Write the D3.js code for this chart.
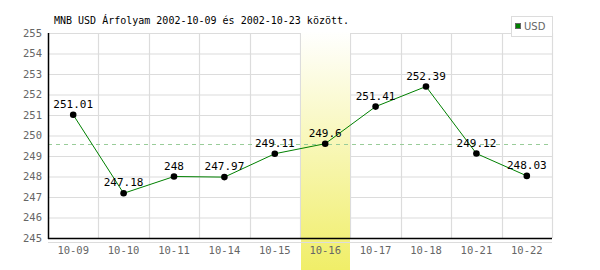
<!DOCTYPE html>
<html><head><meta charset="utf-8">
<script src="https://cdn.jsdelivr.net/npm/d3@7"></script>
<style>html,body{margin:0;padding:0;background:#fff;}svg{display:block;}</style>
</head><body>
<svg id="c" width="600" height="270"></svg>
<script>
const categories = ["10-09","10-10","10-11","10-14","10-15","10-16","10-17","10-18","10-21","10-22"];
const values = [251.01,247.18,248,247.97,249.11,249.6,251.41,252.39,249.12,248.03];
const valueLabels = ["251.01","247.18","248","247.97","249.11","249.6","251.41","252.39","249.12","248.03"];
const yTicks = [245,246,247,248,249,250,251,252,253,254,255];
const highlightCategory = "10-16";
const referenceValue = 249.6;
const seriesName = "USD";
const title = "MNB USD Árfolyam 2002-10-09 és 2002-10-23 között.";

const font = "'DejaVu Sans Mono', monospace";
const svg = d3.select("#c");
const L = 48, R = 552, T = 33, B = 238;
const x = d3.scaleBand().domain(categories).range([L, R]);
const y = d3.scaleLinear().domain([245, 255]).range([B, T]);

// grid
const g = svg.append("g");
g.selectAll("line.h").data(yTicks.slice(1)).join("line")
  .attr("x1", L).attr("x2", R).attr("y1", d => y(d)+0.5).attr("y2", d => y(d)+0.5)
  .attr("stroke", "#dcdcdc").attr("stroke-width", 1.2);
g.selectAll("line.v").data(categories).join("line")
  .attr("x1", d => Math.round(x(d) + x.bandwidth())+0.5).attr("x2", d => Math.round(x(d) + x.bandwidth())+0.5)
  .attr("y1", T).attr("y2", B)
  .attr("stroke", "#dcdcdc").attr("stroke-width", 1.2);

// highlight band
const defs = svg.append("defs");
const grad = defs.append("linearGradient").attr("id", "hl").attr("x1", 0).attr("x2", 0).attr("y1", 0).attr("y2", 1);
grad.append("stop").attr("offset", "0%").attr("stop-color", "#ffffff");
grad.append("stop").attr("offset", "100%").attr("stop-color", "#f0ee68");
svg.append("rect")
  .attr("x", Math.round(x(highlightCategory))+1).attr("y", T-2)
  .attr("width", Math.round(x.bandwidth())-1).attr("height", 270-(T-2))
  .attr("fill", "url(#hl)");

// reference dashed line
svg.append("line").attr("x1", L).attr("x2", R)
  .attr("y1", Math.round(y(referenceValue))+0.5).attr("y2", Math.round(y(referenceValue))+0.5)
  .attr("stroke", "#99cc99").attr("stroke-width", 1).attr("stroke-dasharray", "4,4");

// grey line below x axis
svg.append("line").attr("x1", L).attr("x2", R).attr("y1", B+4.5).attr("y2", B+4.5)
  .attr("stroke", "#dcdcdc").attr("stroke-width", 1);

// axes
const yAxis = d3.axisLeft(y).tickValues(yTicks).tickSize(0).tickPadding(6).tickFormat(d3.format("d"));
const ya = svg.append("g").attr("transform", `translate(${L},0)`).call(yAxis);
ya.select(".domain").remove();
ya.selectAll("text").attr("fill", "#666").style("font-family", font).style("font-size", "10.5px");

const xAxis = d3.axisBottom(x).tickSize(0).tickPadding(9);
const xa = svg.append("g").attr("transform", `translate(0,${B})`).call(xAxis);
xa.select(".domain").remove();
xa.selectAll("text").attr("fill", "#666").style("font-family", font).style("font-size", "10.5px");

svg.append("line").attr("x1", L+0.5).attr("x2", L+0.5).attr("y1", T).attr("y2", B+1).attr("stroke", "#000").attr("stroke-width", 1.5);
svg.append("line").attr("x1", L).attr("x2", R).attr("y1", B+0.5).attr("y2", B+0.5).attr("stroke", "#000").attr("stroke-width", 1.5);

// series
const cx = d => x(d) + x.bandwidth()/2;
const line = d3.line().x((d,i) => cx(categories[i])).y(d => y(d));
svg.append("path").datum(values).attr("d", line).attr("fill", "none").attr("stroke", "#008000").attr("stroke-width", 1);
svg.selectAll("circle.p").data(values).join("circle")
  .attr("cx", (d,i) => cx(categories[i])).attr("cy", d => y(d)).attr("r", 3.3).attr("fill", "#000");
svg.selectAll("text.v").data(values).join("text")
  .attr("x", (d,i) => cx(categories[i])).attr("y", d => y(d) - 7)
  .attr("text-anchor", "middle").attr("fill", "#000")
  .style("font-family", font).style("font-size", "11px")
  .text((d,i) => valueLabels[i]);

// title
svg.append("text").attr("x", 54).attr("y", 24).attr("fill", "#000")
  .style("font-family", font).style("font-size", "10px").text(title);

// legend
svg.append("rect").attr("x", 511.5).attr("y", 16.5).attr("width", 41).attr("height", 20)
  .attr("fill", "#fff").attr("stroke", "#dcdcdc");
svg.append("rect").attr("x", 515.5).attr("y", 23.5).attr("width", 5).attr("height", 5)
  .attr("fill", "#008000").attr("stroke", "#666");
svg.append("text").attr("x", 524).attr("y", 30).attr("fill", "#666")
  .style("font-family", "'DejaVu Sans', sans-serif").style("font-size", "10px").text(seriesName);
</script>
</body></html>
